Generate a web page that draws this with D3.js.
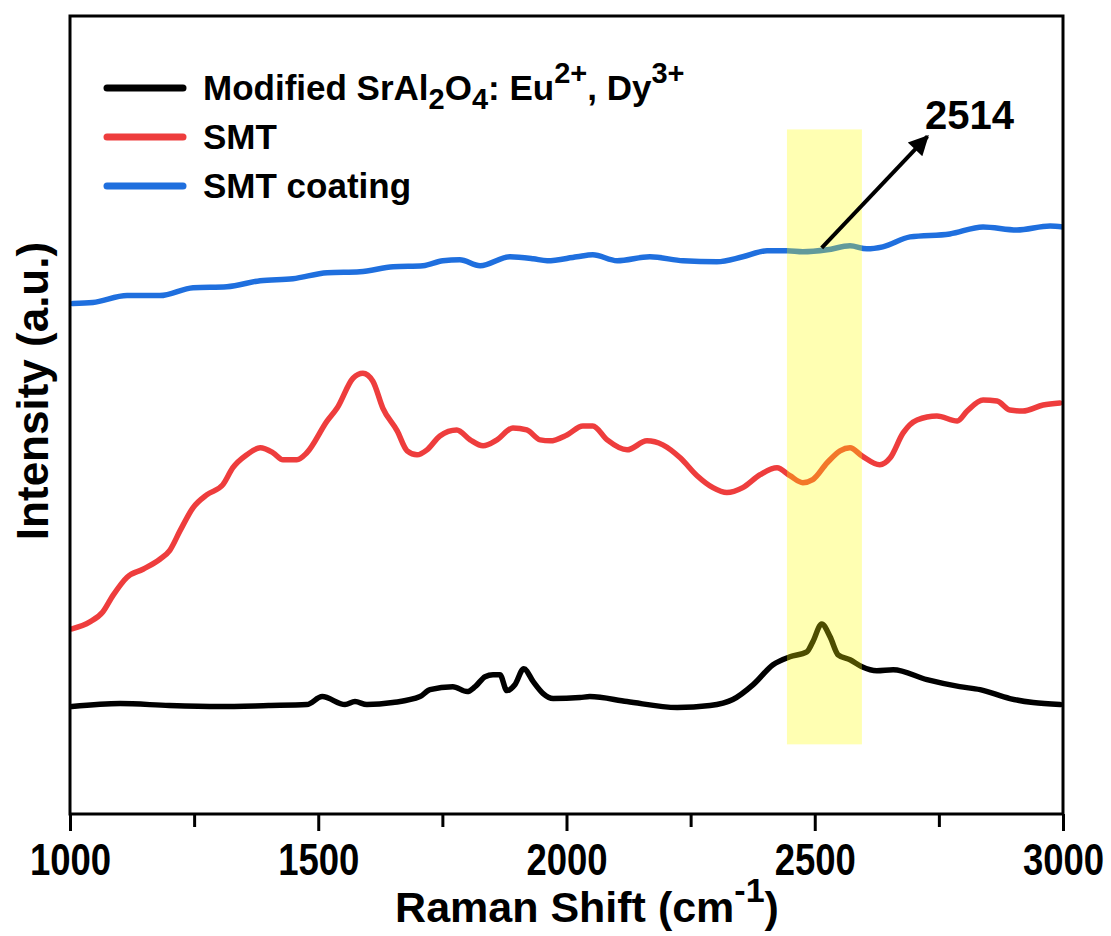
<!DOCTYPE html>
<html>
<head>
<meta charset="utf-8">
<script src="https://cdn.jsdelivr.net/npm/d3@7"></script>
<style>
  html, body { margin: 0; padding: 0; background: #fff; }
  text { font-family: "Liberation Sans", Arial, sans-serif; font-weight: bold; fill: #000; }
</style>
</head>
<body>
<div id="chart"></div>
<script>
// Raman spectra (intensity in arbitrary units)
const blackShift = [1004, 1101, 1200, 1300, 1400, 1477, 1508, 1554, 1574, 1598, 1650, 1705, 1725, 1771, 1800,
  1816, 1836, 1852, 1866, 1880, 1896, 1914, 1933, 1953, 1973, 2027, 2047, 2122, 2223, 2289,
  2335, 2376, 2416, 2450, 2484, 2496, 2514, 2531, 2547, 2571, 2595, 2625, 2658, 2726, 2792,
  2833, 2893, 2940, 2994];
const blackIntensity = [106, 109, 107, 106, 107, 108, 116, 108, 111, 108, 110, 116, 123, 126, 121,
  126, 136, 138, 138, 122, 128, 144, 131, 119, 114, 115, 116, 111, 105, 107,
  113, 128, 148, 156, 161, 171, 189, 176, 158, 153, 146, 142, 143, 133, 126,
  123, 114, 110, 108];

const redShift = [1004, 1040, 1066, 1087, 1115, 1147, 1181, 1201, 1222, 1248, 1276, 1308, 1328, 1356, 1383,
  1409, 1429, 1457, 1477, 1518, 1538, 1570, 1590, 1610, 1630, 1659, 1679, 1699, 1719, 1745,
  1779, 1806, 1832, 1860, 1892, 1920, 1947, 1967, 2001, 2033, 2053, 2082, 2122, 2162, 2194,
  2229, 2263, 2295, 2323, 2355, 2390, 2424, 2450, 2476, 2496, 2525, 2551, 2571, 2595, 2631,
  2652, 2678, 2706, 2746, 2787, 2807, 2839, 2867, 2893, 2919, 2960, 2994];
const redIntensity = [184, 191, 201, 218, 236, 244, 254, 263, 283, 306, 319, 329, 346, 359, 366,
  361, 354, 354, 361, 393, 406, 436, 441, 433, 406, 383, 363, 359, 364, 378,
  384, 374, 368, 374, 386, 384, 374, 373, 379, 388, 388, 374, 364, 373, 369,
  356, 338, 326, 321, 326, 339, 346, 338, 331, 334, 351, 363, 366, 358, 349,
  356, 381, 394, 398, 393, 403, 414, 413, 404, 403, 409, 411];

const blueShift = [1006, 1046, 1115, 1181, 1248, 1316, 1383, 1449, 1518, 1584, 1651, 1711, 1751, 1785, 1826,
  1886, 1933, 1961, 2021, 2053, 2102, 2168, 2235, 2303, 2355, 2404, 2444, 2476, 2525, 2571,
  2605, 2637, 2692, 2772, 2839, 2907, 2974, 3000];
const blueIntensity = [511, 512, 519, 519, 527, 528, 534, 536, 542, 543, 548, 549, 554, 555, 549,
  558, 556, 554, 558, 560, 554, 558, 554, 553, 558, 564, 564, 563, 565, 569,
  566, 568, 578, 581, 588, 585, 589, 588];

const seriesNames = ["Modified SrAl2O4: Eu2+, Dy3+", "SMT", "SMT coating"];
const seriesColors = ["#000000", "#ee3d3d", "#1f6fde"];

const xTicks = [1000, 1500, 2000, 2500, 3000];
const xMinorTicks = [1250, 1750, 2250, 2750];

// highlighted band and peak annotation
const bandRange = [2444, 2595];
const bandIntensity = [68, 686];
const peakLabel = "2514";
const arrowFrom = [2514, 567];
const arrowTo = [2727, 679];
const labelAt = [2722, 686];

(function () {
  const W = 1111, H = 936;
  const margin = { top: 16, right: 48, bottom: 122, left: 70 };
  const innerW = W - margin.left - margin.right;
  const innerH = H - margin.top - margin.bottom;

  const svg = d3.select("#chart").append("svg")
    .attr("width", W)
    .attr("height", H);

  const defs = svg.append("defs");
  defs.append("clipPath").attr("id", "plot-clip")
    .append("rect").attr("width", innerW).attr("height", innerH);
  defs.append("marker")
    .attr("id", "arrowhead")
    .attr("viewBox", "0 0 10 10")
    .attr("refX", 9).attr("refY", 5)
    .attr("markerWidth", 8).attr("markerHeight", 5)
    .attr("markerUnits", "strokeWidth")
    .attr("orient", "auto")
    .append("path")
    .attr("d", "M0,0 L10,5 L0,10 Z")
    .attr("fill", "#000");

  const g = svg.append("g").attr("transform", `translate(${margin.left},${margin.top})`);

  const x = d3.scaleLinear().domain([1000, 3000]).range([0, innerW]);
  const y = d3.scaleLinear().domain([-2, 800]).range([innerH, 0]);

  const series = [
    { name: seriesNames[0], color: seriesColors[0], values: blackShift.map((s, i) => [s, blackIntensity[i]]) },
    { name: seriesNames[1], color: seriesColors[1], values: redShift.map((s, i) => [s, redIntensity[i]]) },
    { name: seriesNames[2], color: seriesColors[2], values: blueShift.map((s, i) => [s, blueIntensity[i]]) }
  ];

  const line = d3.line()
    .x(d => x(d[0]))
    .y(d => y(d[1]))
    .curve(d3.curveMonotoneX);

  const plot = g.append("g").attr("clip-path", "url(#plot-clip)");

  plot.selectAll("path.spectrum")
    .data(series)
    .join("path")
    .attr("class", "spectrum")
    .attr("d", d => line(d.values))
    .attr("fill", "none")
    .attr("stroke", d => d.color)
    .attr("stroke-width", 5.5)
    .attr("stroke-linejoin", "round")
    .attr("stroke-linecap", "round");

  // yellow band sits on top of the lines, semi transparent
  plot.append("rect")
    .attr("x", x(bandRange[0]))
    .attr("width", x(bandRange[1]) - x(bandRange[0]))
    .attr("y", y(bandIntensity[1]))
    .attr("height", y(bandIntensity[0]) - y(bandIntensity[1]))
    .attr("fill", "#ffff00")
    .attr("fill-opacity", 0.3);

  // arrow to the peak label
  g.append("line")
    .attr("x1", x(arrowFrom[0])).attr("y1", y(arrowFrom[1]))
    .attr("x2", x(arrowTo[0])).attr("y2", y(arrowTo[1]))
    .attr("stroke", "#000")
    .attr("stroke-width", 4)
    .attr("marker-end", "url(#arrowhead)");

  g.append("text")
    .attr("x", x(labelAt[0]))
    .attr("y", y(labelAt[1]))
    .attr("font-size", 40)
    .text(peakLabel);

  // x axis: major + minor ticks
  const xAxis = g.append("g")
    .attr("transform", `translate(0,${innerH})`)
    .call(d3.axisBottom(x).tickValues(xTicks).tickSize(17).tickFormat(d3.format("d")));
  xAxis.select(".domain").remove();
  xAxis.selectAll(".tick line").attr("stroke-width", 3);
  xAxis.selectAll(".tick text")
    .attr("y", 61).attr("dy", null)
    .attr("font-size", 44)
    .attr("font-family", "\"Liberation Sans\", Arial, sans-serif")
    .attr("font-weight", "bold")
    .attr("fill", "#000")
    .attr("transform", "scale(0.83,1)");

  const xMinor = g.append("g")
    .attr("transform", `translate(0,${innerH})`)
    .call(d3.axisBottom(x).tickValues(xMinorTicks).tickSize(13).tickFormat(""));
  xMinor.select(".domain").remove();
  xMinor.selectAll(".tick line").attr("stroke-width", 3);

  // frame
  g.append("rect")
    .attr("width", innerW)
    .attr("height", innerH)
    .attr("fill", "none")
    .attr("stroke", "#000")
    .attr("stroke-width", 3);

  // axis titles
  const xTitle = svg.append("text")
    .attr("x", 587)
    .attr("y", 922)
    .attr("text-anchor", "middle")
    .attr("font-size", 43);
  xTitle.append("tspan").text("Raman Shift (cm");
  xTitle.append("tspan").attr("font-size", 34).attr("dy", -20).text("-1");
  xTitle.append("tspan").attr("dy", 20).text(")");

  svg.append("text")
    .attr("transform", "translate(48,391) rotate(-90)")
    .attr("text-anchor", "middle")
    .attr("font-size", 44)
    .text("Intensity (a.u.)");

  // legend
  const legendRows = [88, 137, 186];
  const legend = svg.append("g");
  series.forEach((s, i) => {
    const row = legend.append("g").attr("transform", `translate(0,${legendRows[i]})`);
    row.append("line")
      .attr("x1", 107).attr("x2", 183)
      .attr("stroke", s.color)
      .attr("stroke-width", 7)
      .attr("stroke-linecap", "round");
    const t = row.append("text").attr("x", 203).attr("y", 12).attr("font-size", 35);
    if (i === 0) {
      t.append("tspan").text("Modified SrAl");
      t.append("tspan").attr("font-size", 29).attr("dy", 9).text("2");
      t.append("tspan").attr("dy", -9).text("O");
      t.append("tspan").attr("font-size", 29).attr("dy", 9).text("4");
      t.append("tspan").attr("dy", -9).text(": Eu");
      t.append("tspan").attr("font-size", 29).attr("dy", -17).text("2+");
      t.append("tspan").attr("dy", 17).text(", Dy");
      t.append("tspan").attr("font-size", 29).attr("dy", -17).text("3+");
    } else {
      t.text(s.name);
    }
  });
})();
</script>
</body>
</html>
